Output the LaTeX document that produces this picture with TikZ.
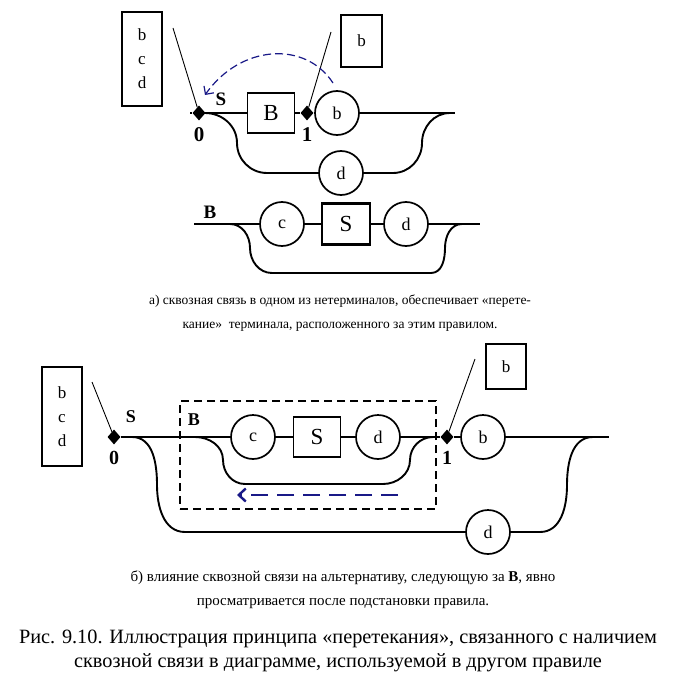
\documentclass[tikz,border=0pt]{standalone}
\usepackage{fontspec}
\setmainfont{Liberation Serif}
\usetikzlibrary{positioning, arrows.meta, shapes.geometric}
\definecolor{navyarc}{RGB}{25,25,135}

\begin{document}
\begin{tikzpicture}[x=1pt, y=-1pt,
    rail/.style={line width=1.9pt},
    term/.style={draw, circle, line width=1.7pt, minimum size=44pt, inner sep=0pt, font=\fontsize{18}{18}\selectfont},
    nterm/.style={draw, rectangle, line width=1.4pt, minimum width=47pt, minimum height=40pt, inner sep=0pt, font=\fontsize{23}{23}\selectfont},
    pin/.style={diamond, fill=black, minimum width=13pt, minimum height=15pt, inner sep=0pt},
    setbox/.style={draw, line width=1.1pt, align=center, inner sep=0pt, font=\fontsize{17}{24}\selectfont},
    tag/.style={font=\bfseries\fontsize{19}{19}\selectfont},
    pointer/.style={line width=0.9pt},
    flow/.style={navyarc, dashed, -{Straight Barb[length=6pt]}},
    caption/.style={align=center}]
    \useasboundingbox (0,0) rectangle (675,690);

    % a) rule S
    \node (setA0) [setbox, minimum width=40pt, minimum height=94pt] at (142,59) {b\\c\\d};
    \node (setA1) [setbox, minimum width=41pt, minimum height=52pt] at (361.5,41) {b};
    \node (pinA0) [pin] at (199,113) {};
    \node (ntB) [nterm] at (271,113) {B};
    \node (pinA1) [pin] at (307,113) {};
    \node (tbA) [term] at (337,113) {b};
    \node (tdA) [term] at (341,173) {d};
    \node (sA) [tag] at (221,99) {S};
    \node (zeroA) [tag, font=\bfseries\fontsize{21}{21}\selectfont, below=3pt of pinA0] {0};
    \node (oneA) [tag, font=\bfseries\fontsize{21}{21}\selectfont, below=3pt of pinA1] {1};
    \coordinate (inA) at (190,113);
    \coordinate (outA) at (455,113);
    \coordinate (splitA) at (205,113);
    \coordinate (tipA0) at (173,28);
    \coordinate (tipA1) at (331,32);
    \coordinate (arcA1) at (333,83);
    \coordinate (arcA0) at (205,95);
    \draw [rail] (inA) -- (pinA0) -- (ntB) -- (pinA1) -- (tbA) -- (outA);
    \draw [rail] (splitA) to[out=0,in=90] ++(32,30) to[out=-90,in=180] ++(30,30) -- (tdA) -- ++(52,0) to[out=0,in=-90] ++(29,-30) to[out=90,in=180] ++(28,-30);
    \draw [pointer] (tipA0) -- (pinA0);
    \draw [pointer] (tipA1) -- (pinA1);
    \draw [flow, line width=1.2pt, dash pattern=on 8pt off 4pt] (arcA1) .. controls (305,40) and (240,45) .. (arcA0);

    % a) rule B
    \node (tagB) [tag] at (210,212) {B};
    \node (tcB) [term] at (282,224) {c};
    \node (ntS) [nterm, line width=2.2pt, minimum width=48pt, minimum height=41pt] at (346,224) {S};
    \node (tdB) [term] at (406,224) {d};
    \coordinate (inB) at (194,224);
    \coordinate (outB) at (480,224);
    \coordinate (splitB) at (230,224);
    \draw [rail] (inB) -- (tcB) -- (ntS) -- (tdB) -- (outB);
    \draw [rail] (splitB) to[out=0,in=90] ++(20,24) to[out=-90,in=180] ++(22,25) -- ++(159,0) to[out=0,in=-90] ++(14,-25) to[out=90,in=180] ++(17,-24);

    \node (capA) [caption, font=\fontsize{13.5}{24}\selectfont] at (340,313) {а) сквозная связь в одном из нетерминалов, обеспечивает «перете-\\кание»~ терминала, расположенного за этим правилом.};

    % b) rule S after substitution
    \node (setB0) [setbox, minimum width=40pt, minimum height=99pt] at (62,416.5) {b\\c\\d};
    \node (setB1) [setbox, minimum width=40pt, minimum height=45pt] at (506,366.5) {b};
    \node (blockB) [draw, line width=1.1pt, dash pattern=on 8pt off 5pt, minimum width=256pt, minimum height=108pt] at (308,455) {};
    \node (pinB0) [pin] at (114,437) {};
    \node (pinB1) [pin] at (447,437) {};
    \node (tcC) [term] at (253,437) {c};
    \node (ntSC) [nterm] at (317,437) {S};
    \node (tdC) [term] at (378,437) {d};
    \node (tbC) [term] at (483,437) {b};
    \node (tdD) [term] at (488,532) {d};
    \node (sB) [tag, font=\bfseries\fontsize{18}{18}\selectfont] at (131,417) {S};
    \node (tagBB) [tag, font=\bfseries\fontsize{18}{18}\selectfont] at (194,420) {B};
    \node (zeroB) [tag, font=\bfseries\fontsize{20}{20}\selectfont, below=3pt of pinB0] {0};
    \node (oneB) [tag, font=\bfseries\fontsize{20}{20}\selectfont, below=3pt of pinB1] {1};
    \coordinate (outC) at (609,437);
    \coordinate (splitC) at (195,437);
    \coordinate (splitD) at (132,437);
    \coordinate (tipB0) at (92,382);
    \coordinate (tipB1) at (475,359);
    \coordinate (backC1) at (398,495);
    \coordinate (backC0) at (237,495);
    \draw [rail] (pinB0) -- (tcC) -- (ntSC) -- (tdC) -- (pinB1) -- (tbC) -- (outC);
    \draw [rail] (splitC) to[out=0,in=90] ++(28,23) to[out=-90,in=180] ++(22,24) -- ++(138,0) to[out=0,in=-90] ++(27,-24) to[out=90,in=180] ++(23,-23);
    \draw [rail] (splitD) to[out=0,in=90] ++(25,48) to[out=-90,in=180] ++(28,47) -- (tdD) -- ++(52,0) to[out=0,in=-90] ++(27,-47) to[out=90,in=180] ++(26,-48);
    \draw [pointer] (tipB0) -- (pinB0);
    \draw [pointer] (tipB1) -- (pinB1);
    \draw [flow, line width=2.4pt, dash pattern=on 17pt off 9pt, -{Straight Barb[length=7pt,width=13pt]}] (backC1) -- (backC0); % back flow

    \node (capB) [caption, font=\fontsize{15}{24}\selectfont] at (343,590) {б) влияние сквозной связи на альтернативу, следующую за \textbf{B}, явно\\просматривается после подстановки правила.};
    \node (capFig) [caption, font=\fontsize{20.3}{24}\selectfont] at (338,651) {Рис. 9.10. Иллюстрация принципа «перетекания», связанного с наличием\\сквозной связи в диаграмме, используемой в другом правиле};
\end{tikzpicture}
\end{document}
